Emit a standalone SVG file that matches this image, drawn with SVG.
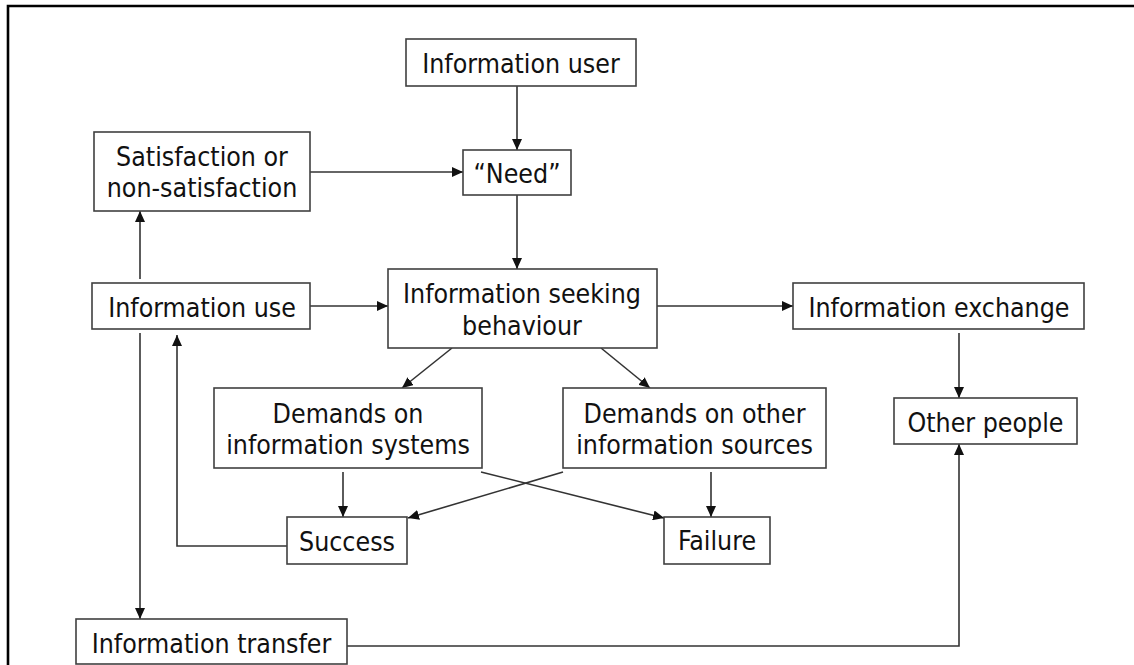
<svg xmlns="http://www.w3.org/2000/svg" width="1134" height="665" viewBox="0 0 1134 665">
<style>
.box{fill:#fff;stroke:#404040;stroke-width:1.6}
.t{font-family:"DejaVu Sans Condensed","DejaVu Sans",sans-serif;font-stretch:condensed;font-size:26.5px;fill:#111;text-anchor:middle}
.c{fill:none;stroke:#333;stroke-width:1.6}
.a{marker-end:url(#ah)}
</style>
<defs>
<marker id="ah" markerUnits="userSpaceOnUse" markerWidth="12" markerHeight="10" refX="11" refY="5" orient="auto">
<path d="M0,0 L11,5 L0,10 z" fill="#111"/>
</marker>
</defs>
<rect width="1134" height="665" fill="#fff"/>
<g id="frame" stroke="#000" stroke-width="2.6" fill="none">
<path d="M1134,6 H8 V665"/>
</g>
<g id="connectors">
<path class="c a" d="M517,86 V150"/>
<path class="c a" d="M310,172 H463"/>
<path class="c a" d="M517,195 V269"/>
<path class="c a" d="M310,306 H388"/>
<path class="c a" d="M140,279 V211"/>
<path class="c a" d="M140,333 V619"/>
<path class="c a" d="M657,306 H793"/>
<path class="c a" d="M452,348 L402,388"/>
<path class="c a" d="M601,348 L650,388"/>
<path class="c a" d="M959,333 V398"/>
<path class="c a" d="M343,472 V517"/>
<path class="c a" d="M711,472 V517"/>
<path class="c a" d="M481,472 L664,518"/>
<path class="c a" d="M563,472 L408,518"/>
<path class="c a" d="M287,546 H177 V335"/>
<path class="c a" d="M347,646 H959 V444"/>
</g>
<g id="info-user"><rect class="box" x="406" y="39" width="230" height="47"/><text class="t" x="521" y="73">Information user</text></g>
<g id="satisfaction"><rect class="box" x="94" y="132" width="216" height="79"/><text class="t" x="202" y="166">Satisfaction or</text><text class="t" x="202" y="197">non-satisfaction</text></g>
<g id="need"><rect class="box" x="463" y="150" width="108" height="45"/><text class="t" x="517" y="183">“Need”</text></g>
<g id="info-use"><rect class="box" x="92" y="283" width="218" height="46"/><text class="t" x="202" y="317">Information use</text></g>
<g id="isb"><rect class="box" x="388" y="269" width="269" height="79"/><text class="t" x="522" y="303">Information seeking</text><text class="t" x="522" y="335">behaviour</text></g>
<g id="info-exchange"><rect class="box" x="793" y="283" width="291" height="46"/><text class="t" x="939" y="317">Information exchange</text></g>
<g id="other-people"><rect class="box" x="894" y="398" width="183" height="46"/><text class="t" x="985.5" y="432">Other people</text></g>
<g id="demands-systems"><rect class="box" x="214" y="388" width="268" height="80"/><text class="t" x="348" y="423">Demands on</text><text class="t" x="348" y="454">information systems</text></g>
<g id="demands-other"><rect class="box" x="563" y="388" width="263" height="80"/><text class="t" x="694.5" y="423">Demands on other</text><text class="t" x="694.5" y="454">information sources</text></g>
<g id="success"><rect class="box" x="287" y="517" width="120" height="47"/><text class="t" x="347" y="551">Success</text></g>
<g id="failure"><rect class="box" x="664" y="517" width="106" height="47"/><text class="t" x="717" y="550">Failure</text></g>
<g id="info-transfer"><rect class="box" x="76" y="619" width="271" height="45"/><text class="t" x="211.5" y="653">Information transfer</text></g>
</svg>
